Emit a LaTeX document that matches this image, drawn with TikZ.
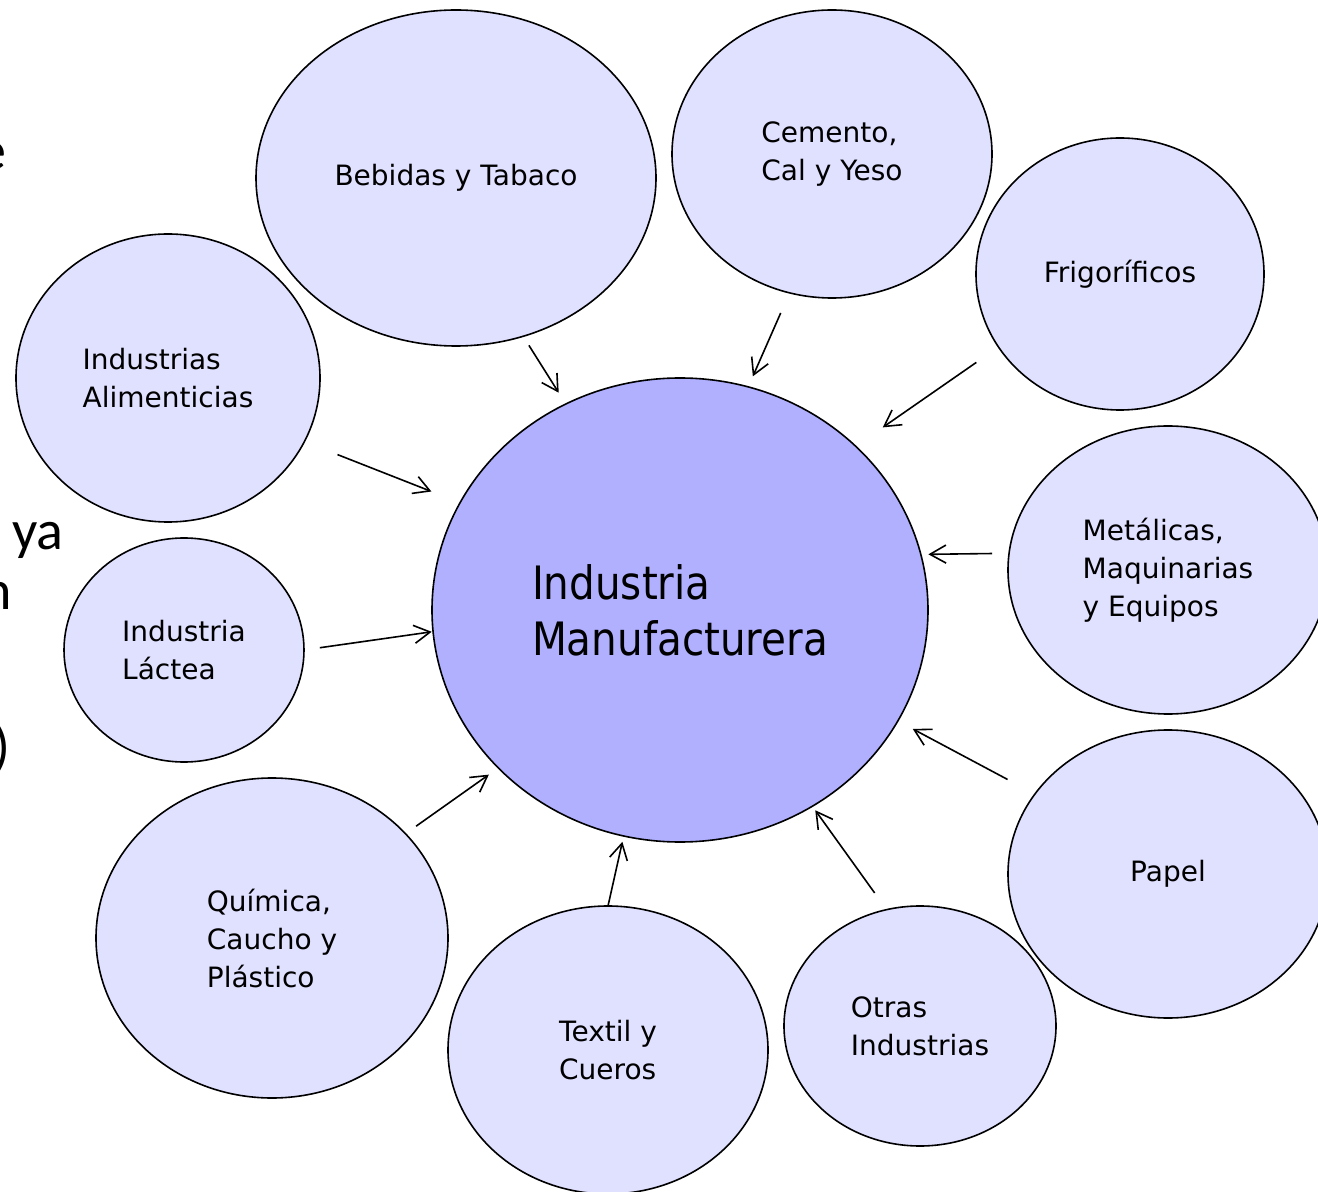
\documentclass[tikz,border=0pt]{standalone}
\usepackage{fontspec}
\setmainfont{DejaVu Sans}
\newfontfamily\titulo{DejaVu Sans}[FakeStretch=0.88]
\newfontfamily\diapo{Carlito}
\usetikzlibrary{shapes.geometric,arrows.meta}
\definecolor{burbujaAzul}{RGB}{224,224,255}
\definecolor{centroAzul}{RGB}{176,176,255}

\begin{document}
\begin{tikzpicture}[x=0.5pt, y=-0.5pt,
  burbuja/.style={ellipse, draw=black, line width=0.8pt, fill=burbujaAzul, inner sep=0pt, outer sep=0pt, align=left, font=\fontsize{14}{19}\selectfont},
  flecha/.style={-{Straight Barb[length=8pt,width=9pt]}, line width=0.8pt},
  resto/.style={anchor=base east, inner sep=0pt, font=\diapo\fontsize{28}{34}\selectfont}]
 	\useasboundingbox (0,0) rectangle (1318,1192);
 	% texto de la diapositiva que queda detras
 	\node[resto] (r1) at (7,170) {e};
 	\node[resto] (r2) at (64,550) {ya};
 	\node[resto] (r3) at (12,610) {n};
 	\node[resto] (r4) at (11,765) {)};
 	% centro
 	\node[burbuja, fill=centroAzul, minimum width=248pt, minimum height=232pt, font=\titulo\fontsize{23}{28}\selectfont] (ind) at (680,610) {Industria\\Manufacturera};
 	% ramas
 	\node[burbuja, minimum width=200pt, minimum height=168pt] (beb) at (456,178) {Bebidas y Tabaco};
 	\node[burbuja, minimum width=160pt, minimum height=144pt] (cem) at (832,154) {Cemento,\\Cal y Yeso};
 	\node[burbuja, minimum width=144pt, minimum height=136pt] (fri) at (1120,274) {Frigoríficos};
 	\node[burbuja, minimum width=152pt, minimum height=144pt] (ali) at (168,378) {Industrias\\Alimenticias};
 	\node[burbuja, minimum width=120pt, minimum height=112pt] (lac) at (184,650) {Industria\\Láctea};
 	\node[burbuja, minimum width=160pt, minimum height=144pt] (met) at (1168,570) {Metálicas,\\Maquinarias\\y Equipos};
 	\node[burbuja, minimum width=160pt, minimum height=144pt] (pap) at (1168,874) {Papel};
 	\node[burbuja, minimum width=136pt, minimum height=120pt] (otr) at (920,1026) {Otras\\Industrias};
 	\node[burbuja, minimum width=160pt, minimum height=144pt] (tex) at (608,1050) {Textil y\\Cueros};
 	\node[burbuja, minimum width=176pt, minimum height=160pt] (qui) at (272,938) {Química,\\Caucho y\\Plástico};
 	% flechas hacia el centro
 	\draw[flecha, shorten <=5.4pt, shorten >=6.7pt] (beb.-67) -- (ind.119);
 	\draw[flecha, shorten <=11pt, shorten >=5.8pt] (cem.-107) -- (ind.73);
 	\draw[flecha, shorten <=13.5pt, shorten >=16.5pt] (fri.-149) -- (ind.43);
 	\draw[flecha, shorten <=17.8pt, shorten >=15.4pt] (ali.-25.5) -- (ind.154);
 	\draw[flecha, shorten <=8pt, shorten >=0.7pt] (lac.0) -- (ind.185.5);
 	\draw[flecha, shorten <=8.5pt, shorten >=3.8pt] (met.174) -- (ind.13);
 	\draw[flecha, shorten <=15.5pt, shorten >=8.5pt] (pap.149) -- (ind.-27);
 	\draw[flecha, shorten <=10.3pt, shorten >=2.5pt] (otr.106) -- (ind.-56);
 	\draw[flecha, shorten >=3pt] (tex.90) -- (ind.-104);
 	\draw[flecha, shorten <=6.5pt, shorten >=5.8pt] (qui.38) -- (ind.-139.5);
\end{tikzpicture}
\end{document}
